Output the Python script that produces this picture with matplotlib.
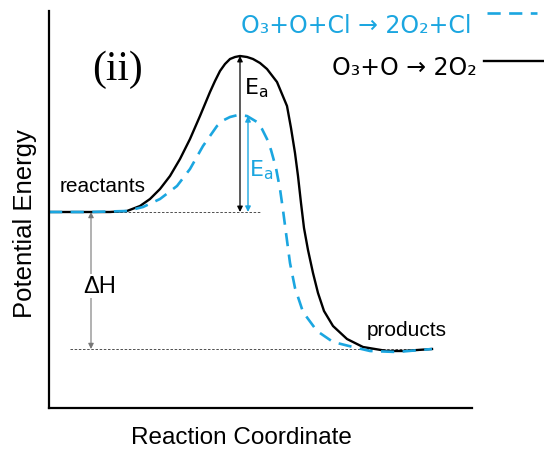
import matplotlib
matplotlib.use("Agg")
import matplotlib.pyplot as plt

# energy profiles (reaction coordinate, energy)
uncat_x = [49, 80, 110, 127, 140, 150, 160, 170, 180, 190, 200, 210, 215, 220, 225,
           230, 235, 240, 247, 253, 260, 267, 277, 287, 291, 295, 298, 301, 304,
           308, 313, 318, 324, 333, 347, 363, 387, 403, 432]
uncat_e = [196, 196, 196, 197, 202, 209, 219, 232, 249, 269, 292, 316, 327, 337, 344,
           349, 351, 352, 351, 349, 345, 339, 326, 302, 280, 255, 232, 205, 180,
           158, 135, 115, 97, 82, 69, 61, 57, 57, 59]

cat_x = [49, 90, 127, 143, 160, 177, 190, 203, 217, 224, 230, 238, 247, 257, 262,
         267, 271, 276, 280, 283, 286, 290, 295, 303, 317, 333, 353, 370, 397, 432]
cat_e = [196, 196, 197, 201, 209, 222, 239, 262, 282, 288, 291, 293, 292, 286, 279,
         269, 258, 240, 219, 198, 175, 145, 120, 96, 77, 66, 61, 57, 56, 59]

reactant_level = 196
product_level = 59
uncat_peak = (240, 352)
cat_peak = (248, 292)

CYAN = "#1ba6e0"

fig = plt.figure(figsize=(5.44, 4.52), dpi=100)
ax = fig.add_axes([49 / 544, 43 / 452, 423 / 544, 397 / 452])
ax.set_xlim(49, 472)
ax.set_ylim(0, 397)
for s in ["top", "right"]:
    ax.spines[s].set_visible(False)
for s in ["left", "bottom"]:
    ax.spines[s].set_linewidth(1.6)
ax.set_xticks([])
ax.set_yticks([])

# reference levels
ax.plot([49, 260], [reactant_level, reactant_level], color="#333333", lw=0.6,
        dashes=(3, 2))
ax.plot([70, 430], [product_level, product_level], color="#333333", lw=0.6,
        dashes=(3, 2))

ax.plot(uncat_x, uncat_e, color="black", lw=1.7, solid_joinstyle="round")
ax.plot(cat_x, cat_e, color=CYAN, lw=1.9, dashes=(5, 3.2))

# arrows
arr = dict(arrowstyle="<|-|>", mutation_scale=8, shrinkA=0, shrinkB=0)
ax.annotate("", xy=(uncat_peak[0], uncat_peak[1]), xytext=(uncat_peak[0], reactant_level),
            arrowprops=dict(color="black", lw=0.9, **arr))
ax.annotate("", xy=(cat_peak[0], cat_peak[1]), xytext=(cat_peak[0], reactant_level),
            arrowprops=dict(color=CYAN, lw=1.0, **arr))
ax.annotate("", xy=(91, product_level), xytext=(91, reactant_level),
            arrowprops=dict(color="#777777", lw=0.8, **arr))

sans = "Liberation Sans"
ax.text(256, 321, r"E$_\mathregular{a}$", fontsize=16, color="black",
        ha="center", va="center")
ax.text(261, 239, r"E$_\mathregular{a}$", fontsize=16, color=CYAN,
        ha="center", va="center")
ax.text(100, 122, "ΔH", fontsize=17, family=sans, color="black",
        ha="center", va="center", bbox=dict(facecolor="white", edgecolor="none", pad=1))

ax.text(103, 222, "reactants", fontsize=15, family=sans, ha="center", va="center")
ax.text(407, 79, "products", fontsize=15, family=sans, ha="center", va="center")
ax.text(117, 339, "(ii)", fontsize=30, family="Liberation Serif",
        ha="center", va="center")

fig.text(241 / 544, 1 - 438 / 452, "Reaction Coordinate", fontsize=17.5, family=sans,
         ha="center", va="center")
fig.text(25 / 544, 1 - 224 / 452, "Potential Energy", fontsize=18.5, family=sans,
         rotation=90, ha="center", va="center")

# legend drawn by hand at the top right
fig.text(356 / 544, 1 - 26 / 452, "O₃+O+Cl → 2O₂+Cl", fontsize=17, color=CYAN,
         ha="center", va="center")
fig.add_artist(plt.Line2D([487 / 544, 537 / 544], [1 - 14 / 452, 1 - 14 / 452],
                          color=CYAN, lw=1.9, dashes=(5, 3.2)))
fig.text(404 / 544, 1 - 68 / 452, "O₃+O → 2O₂", fontsize=17, color="black",
         ha="center", va="center")
fig.add_artist(plt.Line2D([484 / 544, 544 / 544], [1 - 62 / 452, 1 - 62 / 452],
                          color="black", lw=1.7))

fig.savefig("out.png", dpi=100)
